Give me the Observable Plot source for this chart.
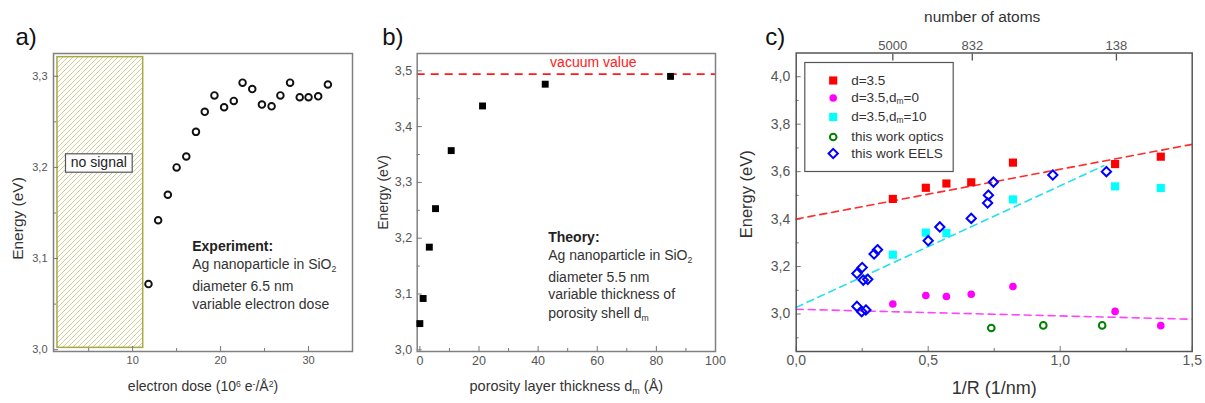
<!DOCTYPE html>
<html><head><meta charset="utf-8">
<script src="https://cdn.jsdelivr.net/npm/d3@7"></script>
<script src="https://cdn.jsdelivr.net/npm/@observablehq/plot@0.6"></script>
<style>
body{margin:0;background:#fff;}
#root{position:relative;width:1205px;height:403px;overflow:hidden;background:#fff;}
.panel{position:absolute;top:0;}
.panel svg{overflow:visible;}
</style></head><body><div id="root"></div>
<script>
// ---------- Panel a: experiment, energy vs electron dose ----------
const doseX = [11.8, 12.9, 14.0, 15.0, 16.1, 17.2, 18.2, 19.3, 20.4, 21.5, 22.5, 23.6, 24.7, 25.8, 26.8, 27.9, 29.0, 30.0, 31.1, 32.2];
const doseE = [3.072, 3.142, 3.170, 3.200, 3.212, 3.239, 3.261, 3.279, 3.266, 3.273, 3.293, 3.286, 3.269, 3.267, 3.279, 3.293, 3.277, 3.277, 3.278, 3.291];
const noSignalDose = [1.45, 11.2];
const noSignalE = [3.002, 3.321];
const aXTicks = [10, 20, 30], aXMinor = [5, 15, 25];
const aYTicks = [3.0, 3.1, 3.2, 3.3], aYMinor = [3.05, 3.15, 3.25];
const aNote = ["Experiment:", "Ag nanoparticle in SiO_{2}", "diameter 6.5 nm", "variable electron dose"];

// ---------- Panel b: theory, energy vs porosity layer thickness ----------
const thickX = [0, 1.1, 3.2, 5.3, 10.6, 21.2, 42.4, 84.8];
const thickE = [3.047, 3.092, 3.184, 3.253, 3.357, 3.437, 3.476, 3.490];
const vacuumE = [3.494];
const bXTicks = [0, 20, 40, 60, 80, 100], bXMinor = [10, 30, 50, 70, 90];
const bYTicks = [3.0, 3.1, 3.2, 3.3, 3.4, 3.5], bYMinor = [3.05, 3.15, 3.25, 3.35, 3.45];
const bNote = ["Theory:", "Ag nanoparticle in SiO_{2}", "diameter 5.5 nm", "variable thickness of", "porosity shell d_{m}"];

// ---------- Panel c: energy vs 1/R ----------
const invR_d35 = [0.366, 0.491, 0.569, 0.663, 0.821, 1.208, 1.381];
const E_d35    = [3.485, 3.532, 3.550, 3.555, 3.638, 3.632, 3.663];
const invR_dm0 = [0.366, 0.491, 0.569, 0.663, 0.821, 1.208, 1.381];
const E_dm0    = [3.042, 3.078, 3.074, 3.083, 3.116, 3.011, 2.951];
const invR_dm10 = [0.366, 0.491, 0.569, 0.821, 1.208, 1.381];
const E_dm10    = [3.250, 3.343, 3.341, 3.483, 3.538, 3.531];
const invR_optics = [0.739, 0.936, 1.159];
const E_optics    = [2.941, 2.952, 2.952];
const invR_eels = [0.230, 0.250, 0.254, 0.271, 0.295, 0.308, 0.230, 0.248, 0.264, 0.500, 0.544, 0.663, 0.725, 0.728, 0.747, 0.972, 1.175];
const E_eels    = [3.171, 3.196, 3.143, 3.146, 3.253, 3.271, 3.032, 3.010, 3.017, 3.309, 3.367, 3.403, 3.468, 3.501, 3.556, 3.586, 3.600];
const fitX_red = [0, 1.5],    fitE_red = [3.400, 3.715];
const fitX_cyan = [0, 1.165], fitE_cyan = [3.028, 3.625];
const fitX_mag = [0, 1.5],    fitE_mag = [3.020, 2.978];
const cXTicks = [0, 0.5, 1.0, 1.5], cXMinor = [0.25, 0.75, 1.25];
const cYTicks = [3.0, 3.2, 3.4, 3.6, 3.8, 4.0], cYMinor = [2.9, 3.1, 3.3, 3.5, 3.7, 3.9];
const atomTickX = [0.366, 0.667, 1.213];
const atomTickLabels = ["5000", "832", "138"];
const legendNames = ["d=3.5", "d=3.5,d_{m}=0", "d=3.5,d_{m}=10", "this work optics", "this work EELS"];

// ---------- helpers ----------
const FONT = "'Liberation Sans', Arial, Helvetica, sans-serif";
const fmt = d => d.toFixed(1).replace(".", ",");
const zip = (xs, ys) => xs.map((x, i) => ({x, y: ys[i]}));
const TICK = "#777", LBL = "#555", TXT = "#333";
const baseStyle = {fontFamily: FONT, fontSize: "11px", overflow: "visible", background: "transparent", color: LBL};

function hatchDefs() {
  const ns = "http://www.w3.org/2000/svg";
  const defs = document.createElementNS(ns, "defs");
  defs.innerHTML = `<pattern id="hatch" patternUnits="userSpaceOnUse" width="5" height="5">
    <rect width="5" height="5" fill="#fff"/>
    <path d="M-1.25,1.25 L1.25,-1.25 M0,5 L5,0 M3.75,6.25 L6.25,3.75" stroke="#c9c98c" stroke-width="0.9"/>
  </pattern>`;
  return defs;
}

// inward ticks: outward-drawn ticks shifted into the frame by their own length
function axesFor(xT, xMin, yT, yMin, o) {
  return [
    Plot.axisY({ticks: yT, tickSize: 5, dx: 5, text: null, stroke: TICK, label: null}),
    Plot.axisY({ticks: yMin, tickSize: 3, dx: 3, text: null, stroke: TICK, label: null}),
    Plot.axisY({ticks: yT, tickSize: 0, tickPadding: o.yPad, tickFormat: o.yFmt || fmt, fontSize: o.yFont, fill: LBL, label: null}),
    Plot.axisX({ticks: xT, tickSize: 5, dy: -5, text: null, stroke: TICK, label: null}),
    Plot.axisX({ticks: xMin, tickSize: 3, dy: -3, text: null, stroke: TICK, label: null}),
    Plot.axisX({ticks: xT, tickSize: 0, tickPadding: o.xPad, tickFormat: o.xFmt || (d => String(d)), fontSize: o.xFont, fill: LBL, label: null})
  ];
}

// convert _{..} and ^{..} into sub/superscript tspans
function applyScripts(svg) {
  svg.querySelectorAll("text, tspan").forEach(el => {
    if (el.children.length) return;
    const s = el.textContent;
    if (!/[_^]\{/.test(s)) return;
    el.textContent = "";
    const re = /([_^])\{([^}]*)\}/g;
    let last = 0, m;
    const ns = "http://www.w3.org/2000/svg";
    while ((m = re.exec(s))) {
      if (m.index > last) el.appendChild(document.createTextNode(s.slice(last, m.index)));
      const t = document.createElementNS(ns, "tspan");
      t.setAttribute("baseline-shift", m[1] === "_" ? "-28%" : "40%");
      t.setAttribute("font-size", "62%");
      t.textContent = m[2];
      el.appendChild(t);
      last = re.lastIndex;
    }
    if (last < s.length) el.appendChild(document.createTextNode(s.slice(last)));
  });
}

const label = (t, opts) => Plot.text([t], {text: d => d, textAnchor: "middle", lineAnchor: "middle", ...opts});

// ---------- Panel a ----------
const plotA = Plot.plot({
  width: 380, height: 403, marginLeft: 53, marginRight: 28, marginTop: 53, marginBottom: 52,
  x: {domain: [1, 35]}, y: {domain: [2.998, 3.325]},
  style: baseStyle,
  marks: [
    hatchDefs,
    Plot.rect([{x1: noSignalDose[0], x2: noSignalDose[1], y1: noSignalE[0], y2: noSignalE[1]}],
      {x1: "x1", x2: "x2", y1: "y1", y2: "y2", fill: "url(#hatch)", stroke: "#a9a943", strokeWidth: 1.5}),
    Plot.frame({insetLeft: 12, insetRight: 220.3, insetTop: 100.3, insetBottom: 179.3, fill: "#fff", stroke: "#555", strokeWidth: 1.2}),
    label("no signal", {frameAnchor: "top-left", dx: 45.3, dy: 109.5, fontSize: 14, fill: "#222"}),
    ...axesFor(aXTicks, aXMinor, aYTicks, aYMinor, {yPad: 6, xPad: 5, yFont: 11, xFont: 11}),
    Plot.frame({stroke: "#808080", strokeWidth: 1.5}),
    Plot.dot(zip(doseX, doseE), {x: "x", y: "y", r: 3.3, stroke: "#111", strokeWidth: 1.9, fill: "none"}),
    ...aNote.map((t, i) => label(t, {frameAnchor: "top-left", textAnchor: "start", dx: 138.7, dy: [193.3, 211, 233, 250.7][i], fontSize: 14, fontWeight: i === 0 ? "bold" : "normal", fill: i === 0 ? "#222" : TXT})),
    label("electron dose (10^{6} e^{-}/Å^{2})", {frameAnchor: "bottom", dy: 35.5, fontSize: 14, fill: TXT}),
    label("Energy (eV)", {frameAnchor: "left", rotate: -90, dx: -35, dy: 16, fontSize: 15.5, fill: TXT}),
    label("a)", {frameAnchor: "top-left", textAnchor: "start", dx: -38, dy: -16, fontSize: 24, fill: "#111"})
  ]
});

// ---------- Panel b ----------
const plotB = Plot.plot({
  width: 380, height: 403, marginLeft: 36.7, marginRight: 45, marginTop: 53, marginBottom: 52,
  x: {domain: [-0.9, 100]}, y: {domain: [2.997, 3.531]},
  style: baseStyle,
  marks: [
    ...axesFor(bXTicks, bXMinor, bYTicks, bYMinor, {yPad: 5, xPad: 5, yFont: 12.5, xFont: 12.5}),
    Plot.ruleY(vacuumE, {y: d => d, stroke: "#ff1a1a", strokeWidth: 1.6, strokeDasharray: "8,6"}),
    Plot.frame({stroke: "#808080", strokeWidth: 1.5}),
    Plot.dot(zip(thickX, thickE), {x: "x", y: "y", r: 3.9, symbol: "square", fill: "#000"}),
    label("vacuum value", {frameAnchor: "top-left", dx: 176.1, dy: 9, fontSize: 14, fill: "#ff2020"}),
    ...bNote.map((t, i) => label(t, {frameAnchor: "top-left", textAnchor: "start", dx: 131, dy: [184.3, 202, 223.7, 241, 260.3][i], fontSize: 14, fontWeight: i === 0 ? "bold" : "normal", fill: i === 0 ? "#222" : TXT})),
    label("porosity layer thickness d_{m} (Å)", {frameAnchor: "bottom", dy: 34.5, fontSize: 14.5, fill: TXT}),
    label("Energy (eV)", {frameAnchor: "left", rotate: -90, dx: -33.5, dy: -10, fontSize: 14, fill: TXT}),
    label("b)", {frameAnchor: "top-left", textAnchor: "start", dx: -35, dy: -16, fontSize: 24, fill: "#111"})
  ]
});

// ---------- Panel c ----------
const legendDots = [
  {symbol: "square", fill: "#ff0000", stroke: "none", r: 4.6, sw: 0},
  {symbol: "circle", fill: "#ff00ff", stroke: "none", r: 3.8, sw: 0},
  {symbol: "square", fill: "#00ffff", stroke: "none", r: 4.6, sw: 0},
  {symbol: "circle", fill: "none", stroke: "#008000", r: 3.3, sw: 2},
  {symbol: "diamond2", fill: "none", stroke: "#0000ff", r: 4.2, sw: 2}
];
const legendRowY = [27.5, 45, 64, 84, 100.5];
const plotC = Plot.plot({
  width: 445, height: 403, marginLeft: 35.7, marginRight: 13.3, marginTop: 52.5, marginBottom: 52,
  x: {domain: [0, 1.5]}, y: {domain: [2.842, 4.1]},
  style: baseStyle,
  marks: [
    ...axesFor(cXTicks, cXMinor, cYTicks, cYMinor, {yPad: 6, xPad: 4, yFont: 14, xFont: 14, xFmt: fmt}),
    Plot.axisX({anchor: "top", ticks: atomTickX, tickSize: 7, dy: 7, text: null, stroke: "#555", strokeWidth: 1.3, label: null}),
    Plot.axisX({anchor: "top", ticks: atomTickX, tickSize: 0, tickPadding: 3, tickFormat: d => atomTickLabels[atomTickX.indexOf(d)], fontSize: 13, fill: LBL, label: null}),
    Plot.line(zip(fitX_red, fitE_red), {x: "x", y: "y", stroke: "#ff2a2a", strokeWidth: 1.6, strokeDasharray: "7,5"}),
    Plot.line(zip(fitX_cyan, fitE_cyan), {x: "x", y: "y", stroke: "#22e0ee", strokeWidth: 1.6, strokeDasharray: "7,5"}),
    Plot.line(zip(fitX_mag, fitE_mag), {x: "x", y: "y", stroke: "#ff44ff", strokeWidth: 1.6, strokeDasharray: "7,5"}),
    Plot.frame({stroke: "#555", strokeWidth: 1.5}),
    Plot.dot(zip(invR_d35, E_d35), {x: "x", y: "y", r: 4.6, symbol: "square", fill: "#ff0000"}),
    Plot.dot(zip(invR_dm0, E_dm0), {x: "x", y: "y", r: 3.8, fill: "#ff00ff"}),
    Plot.dot(zip(invR_dm10, E_dm10), {x: "x", y: "y", r: 4.6, symbol: "square", fill: "#00ffff"}),
    Plot.dot(zip(invR_optics, E_optics), {x: "x", y: "y", r: 3.3, stroke: "#008000", strokeWidth: 2, fill: "none"}),
    Plot.dot(zip(invR_eels, E_eels), {x: "x", y: "y", r: 4.2, symbol: "diamond2", stroke: "#0000ff", strokeWidth: 2, fill: "none"}),
    Plot.frame({insetLeft: 8.6, insetRight: 239, insetTop: 9.5, insetBottom: 180, fill: "#fff", stroke: "#555", strokeWidth: 1.2}),
    ...legendDots.map((s, i) => Plot.dot([s], {frameAnchor: "top-left", dx: 37, dy: legendRowY[i], r: s.r, symbol: s.symbol, fill: s.fill, stroke: s.stroke, strokeWidth: s.sw})),
    ...legendNames.map((t, i) => label(t, {frameAnchor: "top-left", textAnchor: "start", dx: 55, dy: legendRowY[i], fontSize: 13.5, fill: TXT})),
    label("1/R (1/nm)", {frameAnchor: "bottom", dy: 37, fontSize: 18, fill: TXT}),
    label("number of atoms", {frameAnchor: "top", dx: -12, dy: -35.5, fontSize: 15.5, fill: TXT}),
    label("Energy (eV)", {frameAnchor: "left", rotate: -90, dx: -49, dy: -8, fontSize: 16.5, fill: TXT}),
    label("c)", {frameAnchor: "top-left", textAnchor: "start", dx: -31, dy: -16, fontSize: 24, fill: "#111"})
  ]
});

const root = document.getElementById("root");
[[plotA, 0], [plotB, 380], [plotC, 760]].forEach(([p, left]) => {
  const div = document.createElement("div");
  div.className = "panel";
  div.style.left = left + "px";
  div.appendChild(p);
  root.appendChild(div);
  applyScripts(p);
});
</script>
</body></html>
